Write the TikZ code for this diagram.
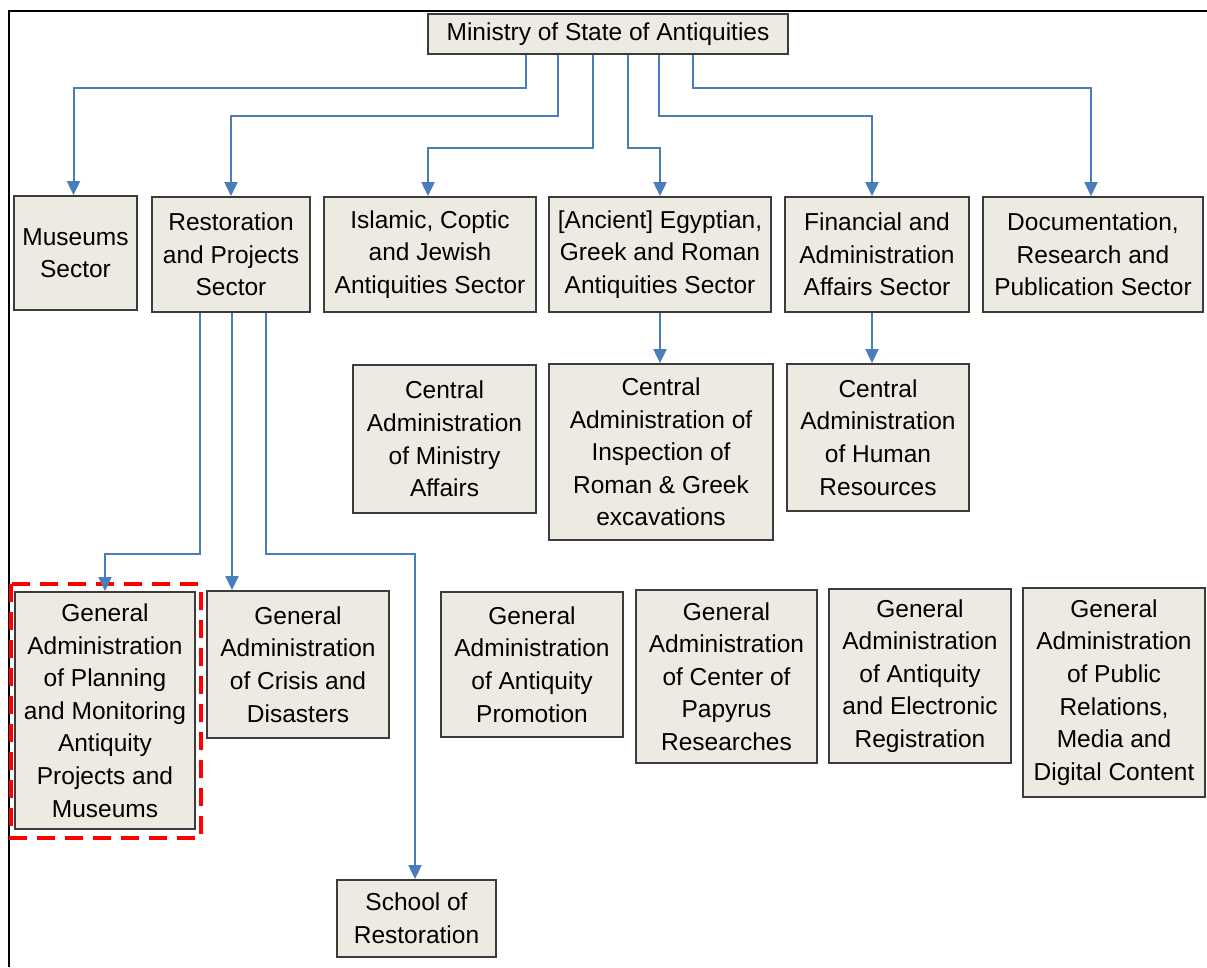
\documentclass[tikz,border=0pt]{standalone}
\usepackage{fontspec}
\setmainfont{Liberation Sans}
\usepackage{tikz}
\usetikzlibrary{arrows.meta}
\definecolor{boxfill}{HTML}{EDEBE1}
\definecolor{boxline}{HTML}{3C3C3C}
\definecolor{linkblue}{HTML}{4A7EBB}
\begin{document}
\begin{tikzpicture}[
    x=1pt, y=-1pt,
    unit/.style={draw=boxline, fill=boxfill, line width=1.8pt, align=center,
      inner sep=2pt, font=\fontsize{24.5}{32.6}\selectfont},
    dim/.style 2 args={minimum width=#1pt, minimum height=#2pt},
    link/.style={draw=linkblue, line width=2pt, -{Triangle[width=13pt,length=14pt]}},
    hilite/.style={draw=red, line width=4pt, dash pattern=on 18pt off 10pt},
  ]
\useasboundingbox (0,0) rectangle (1207,967);
\draw[line width=2pt] (1207,11) -- (9,11) -- (9,967);

\node[unit, dim={360}{40}] (min) at (608,34) {Ministry of State of Antiquities};

\node[unit, dim={123}{114}] (mus) at (75.5,253) {Museums\\Sector};
\node[unit, dim={158}{115}] (res) at (231,254.5) {Restoration\\and Projects\\Sector};
\node[unit, dim={212}{115}] (isl) at (430,254.5) {Islamic, Coptic\\and Jewish\\Antiquities Sector};
\node[unit, dim={222}{115}] (egy) at (660,254.5) {[Ancient] Egyptian,\\Greek and Roman\\Antiquities Sector};
\node[unit, dim={184}{115}] (fin) at (877,254.5) {Financial and\\Administration\\Affairs Sector};
\node[unit, dim={220}{115}] (doc) at (1093,254.5) {Documentation,\\Research and\\Publication Sector};

\node[unit, dim={183}{148}] (cma) at (444.5,439) {Central\\Administration\\of Ministry\\Affairs};
\node[unit, dim={224}{176}] (cins) at (661,452) {Central\\Administration of\\Inspection of\\Roman \& Greek\\excavations};
\node[unit, dim={182}{147}] (chr) at (878,437.5) {Central\\Administration\\of Human\\Resources};

\node[unit, dim={180}{237}] (gplan) at (105,710.5) {General\\Administration\\of Planning\\and Monitoring\\Antiquity\\Projects and\\Museums};
\node[unit, dim={182}{147}] (gcri) at (298,664.5) {General\\Administration\\of Crisis and\\Disasters};
\node[unit, dim={182}{145}] (gpro) at (532,664.5) {General\\Administration\\of Antiquity\\Promotion};
\node[unit, dim={181}{173}] (gpap) at (726.5,676.5) {General\\Administration\\of Center of\\Papyrus\\Researches};
\node[unit, dim={182}{174}] (gele) at (920,676) {General\\Administration\\of Antiquity\\and Electronic\\Registration};
\node[unit, dim={182}{209}] (gpub) at (1114,692.5) {General\\Administration\\of Public\\Relations,\\Media and\\Digital Content};
\node[unit, dim={159}{77}] (sch) at (416.5,918.5) {School of\\Restoration};

\draw[hilite] ([shift={(-3,-7)}]gplan.north west) rectangle ([shift={(5,8)}]gplan.south east);

\draw[link] ([xshift=-82pt]min.south) -- ++(0,33) -| ([xshift=-2pt]mus.north);
\draw[link] ([xshift=-50pt]min.south) -- ++(0,61) -| (res.north);
\draw[link] ([xshift=-15pt]min.south) -- ++(0,93) -| ([xshift=-2pt]isl.north);
\draw[link] ([xshift=20pt]min.south) -- ++(0,93) -| (egy.north);
\draw[link] ([xshift=51pt]min.south) -- ++(0,61) -| ([xshift=-5pt]fin.north);
\draw[link] ([xshift=85pt]min.south) -- ++(0,33) -| ([xshift=-2pt]doc.north);

\draw[link] (egy.south) -- (egy.south |- cins.north);
\draw[link] ([xshift=-5pt]fin.south) -- ([xshift=-5pt]fin.south |- chr.north);

\draw[link] ([xshift=-31pt]res.south) -- ++(0,241) -| (gplan.north);
\draw[link] ([xshift=1pt]res.south) -- ([xshift=1pt]res.south |- gcri.north);
\draw[link] ([xshift=35pt]res.south) -- ++(0,241) -| ([xshift=-1.5pt]sch.north);
\end{tikzpicture}
\end{document}
